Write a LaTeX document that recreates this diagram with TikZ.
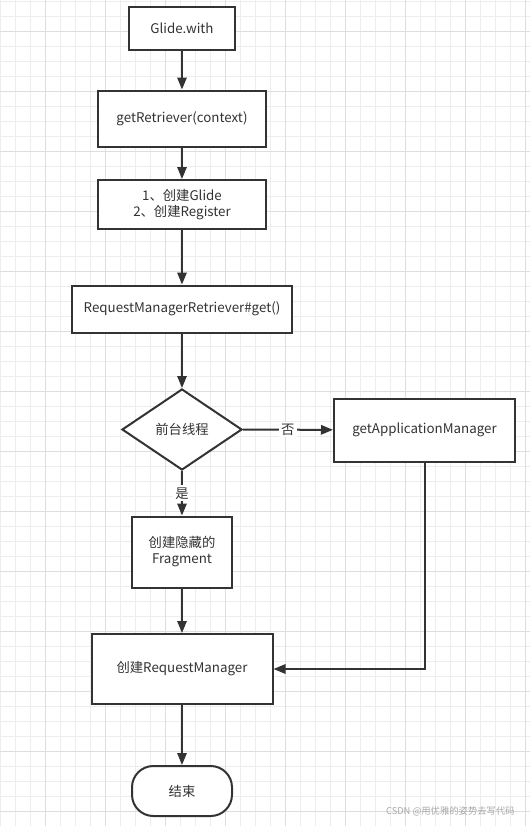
\documentclass[tikz,border=0pt]{standalone}
\usepackage{fontspec}
\setmainfont{Noto Sans CJK SC}
\usetikzlibrary{shapes.geometric,arrows.meta}
\definecolor{ln}{HTML}{333333}
\definecolor{txt}{HTML}{333333}
\definecolor{gminor}{HTML}{EDEDED}
\definecolor{gmajor}{HTML}{DEDEDE}
\definecolor{wm}{HTML}{A8A8A8}
\tikzset{
  box/.style={draw=ln, line width=1.5pt, fill=white, rectangle, inner sep=0pt, align=center,
    font=\fontsize{10pt}{12pt}\selectfont, text=txt},
  dec/.style={draw=ln, line width=1.5pt, fill=white, diamond, inner sep=0pt, align=center,
    font=\fontsize{10pt}{12pt}\selectfont, text=txt},
  term/.style={box, rounded corners=16pt},
  arr/.style={draw=ln, line width=1.5pt, -{Triangle[length=9pt,width=7pt]}},
  lbl/.style={fill=white, inner sep=1.5pt, font=\fontsize{10pt}{12pt}\selectfont, text=txt},
  gmin/.style={draw=gminor, line width=0.75pt},
  gmaj/.style={draw=gmajor, line width=0.75pt},
}
\begin{document}
\begin{tikzpicture}[x=0.75pt,y=-0.75pt]
\useasboundingbox (0,0) rectangle (530,826);
\fill[white] (0,0) rectangle (530,826);
% grid
\foreach \i in {0,...,35} \draw[gmin] ({15*\i+0.5},0) -- ({15*\i+0.5},826);
\foreach \i in {0,...,55} \draw[gmin] (0,{15*\i+1}) -- (530,{15*\i+1});
\foreach \i in {0,...,8} \draw[gmaj] ({60*\i+45.5},0) -- ({60*\i+45.5},826);
\foreach \i in {0,...,13} \draw[gmaj] (0,{60*\i+31}) -- (530,{60*\i+31});
% nodes
\node[box, minimum width=79.5pt, minimum height=32.25pt] (n1) at (182,28.5) {Glide.with};
\node[box, minimum width=126pt, minimum height=42pt] (n2) at (182,118.5) {getRetriever(context)};
\node[box, minimum width=126pt, minimum height=36.75pt] (n3) at (182,204.5) {1、创建Glide\\2、创建Register};
\node[box, minimum width=165pt, minimum height=35.25pt] (n4) at (182,309) {RequestManagerRetriever\#get()};
\node[dec, minimum width=90pt, minimum height=60.75pt] (d) at (182,429.5) {前台线程};
\node[box, minimum width=135.75pt, minimum height=47.25pt] (n5) at (424.5,430) {getApplicationManager};
\node[box, minimum width=75pt, minimum height=53.25pt] (n6) at (182,552) {创建隐藏的\\Fragment};
\node[box, minimum width=135.75pt, minimum height=52.5pt] (n7) at (182,669) {创建RequestManager};
\node[term, minimum width=75pt, minimum height=37.5pt] (e) at (182,791) {结束};
% connectors
\draw[arr] (n1) -- (n2);
\draw[arr] (n2) -- (n3);
\draw[arr] (n3) -- (n4);
\draw[arr] (n4) -- (d);
\draw[arr] (d) -- node[lbl, pos=0.5] {否} (n5);
\draw[arr] (d) -- node[lbl, pos=0.5] {是} (n6);
\draw[arr] (n6) -- (n7);
\draw[arr] (n5.south) |- (n7.east);
\draw[arr] (n7) -- (e);
% watermark
\node[anchor=east, inner sep=0pt, text=wm, font=\fontsize{7pt}{8pt}\selectfont] (wmk) at (515,811) {CSDN @用优雅的姿势去写代码};
\end{tikzpicture}
\end{document}
